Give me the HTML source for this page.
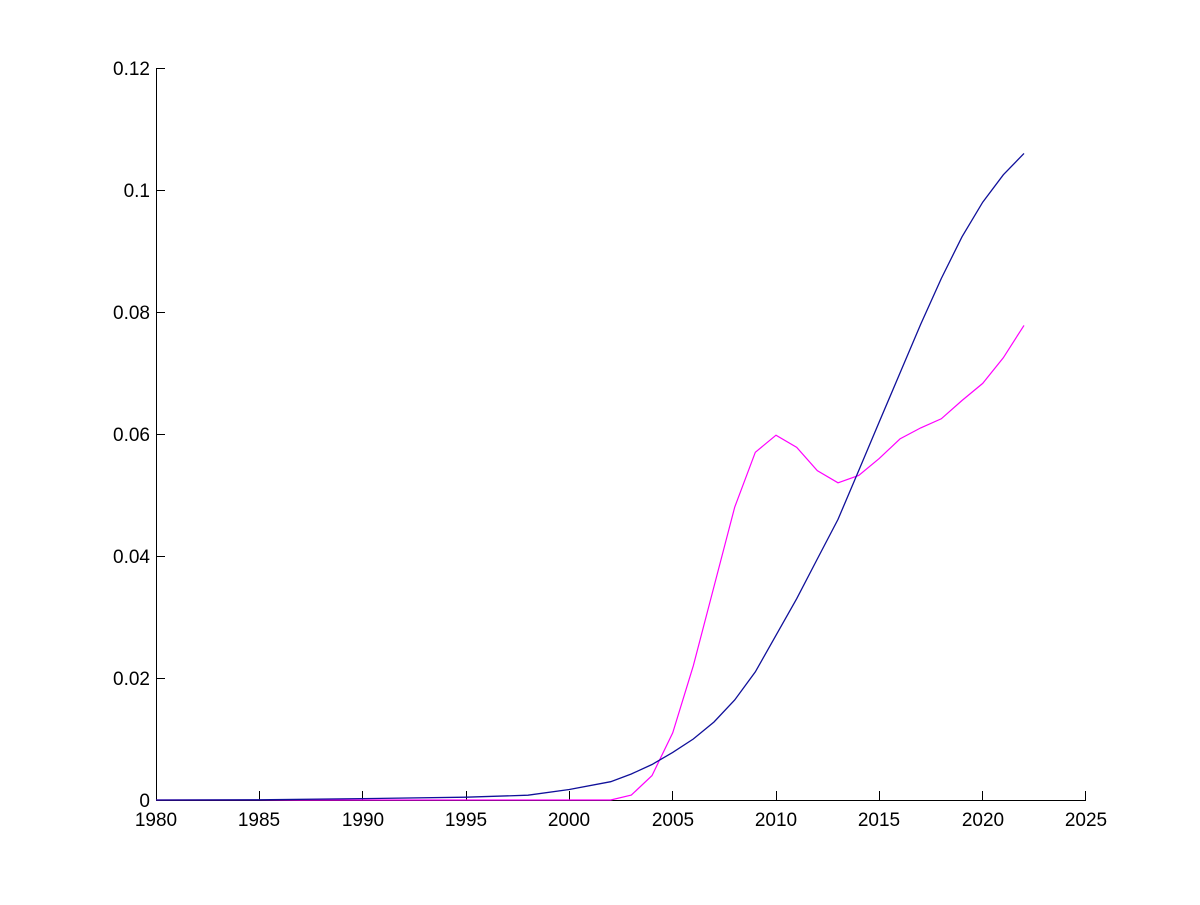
<!DOCTYPE html>
<html><head><meta charset="utf-8"><style>
html,body{margin:0;padding:0;background:#fff;}
svg text{font-family:"Liberation Sans",Arial,sans-serif;font-size:19px;fill:#000;}
</style></head><body>
<svg width="1200" height="900" viewBox="0 0 1200 900" xmlns="http://www.w3.org/2000/svg">
<rect width="1200" height="900" fill="#fff"/>
<g stroke="#000" stroke-width="1" fill="none" shape-rendering="crispEdges">
<line x1="156.5" y1="68" x2="156.5" y2="800.5"/>
<line x1="156" y1="800.5" x2="1086" y2="800.5"/>
<line x1="156" y1="800.5" x2="165" y2="800.5"/>
<line x1="156" y1="678.5" x2="165" y2="678.5"/>
<line x1="156" y1="556.5" x2="165" y2="556.5"/>
<line x1="156" y1="434.5" x2="165" y2="434.5"/>
<line x1="156" y1="312.5" x2="165" y2="312.5"/>
<line x1="156" y1="190.5" x2="165" y2="190.5"/>
<line x1="156" y1="68.5" x2="165" y2="68.5"/>
<line x1="259.5" y1="800" x2="259.5" y2="791"/>
<line x1="362.5" y1="800" x2="362.5" y2="791"/>
<line x1="466.5" y1="800" x2="466.5" y2="791"/>
<line x1="569.5" y1="800" x2="569.5" y2="791"/>
<line x1="672.5" y1="800" x2="672.5" y2="791"/>
<line x1="776.5" y1="800" x2="776.5" y2="791"/>
<line x1="879.5" y1="800" x2="879.5" y2="791"/>
<line x1="982.5" y1="800" x2="982.5" y2="791"/>
<line x1="1085.5" y1="800" x2="1085.5" y2="791"/>
</g>
<g text-anchor="end">
<text x="150" y="807">0</text>
<text x="150" y="685">0.02</text>
<text x="150" y="563">0.04</text>
<text x="150" y="441">0.06</text>
<text x="150" y="319">0.08</text>
<text x="150" y="197">0.1</text>
<text x="150" y="75">0.12</text>
</g>
<g text-anchor="middle">
<text x="156" y="826">1980</text>
<text x="259" y="826">1985</text>
<text x="363" y="826">1990</text>
<text x="466" y="826">1995</text>
<text x="569" y="826">2000</text>
<text x="673" y="826">2005</text>
<text x="776" y="826">2010</text>
<text x="879" y="826">2015</text>
<text x="983" y="826">2020</text>
<text x="1086" y="826">2025</text>
</g>
<polyline fill="none" stroke="#ff00ff" stroke-width="1.2" points="156,800 610.7,800 631.3,795.1 652,775.6 672.7,732.9 693.3,665.8 714,586.5 734.7,507.2 755.3,452.3 776,435.2 796.7,447.4 817.3,470.6 838,482.8 858.7,475.5 879.3,458.4 900,438.9 920.7,427.9 941.3,418.8 962,400.5 982.7,383.4 1003.3,357.8 1024,325.4"/>
<polyline fill="none" stroke="#10109a" stroke-width="1.3" points="156,800 259.3,799.8 362.7,798.6 466,797.2 528,795.2 569.3,789.5 610.7,781.7 631.3,774 652,764.5 672.7,752.4 693.3,739 714,722 734.7,700 755.3,671.9 776,635.3 796.7,598.7 817.3,559 838,519.4 858.7,470.6 879.3,421.8 900,373 920.7,324.2 941.3,278.5 962,236.8 982.7,202.2 1003.3,174.8 1024,153.4"/>
</svg>
</body></html>
